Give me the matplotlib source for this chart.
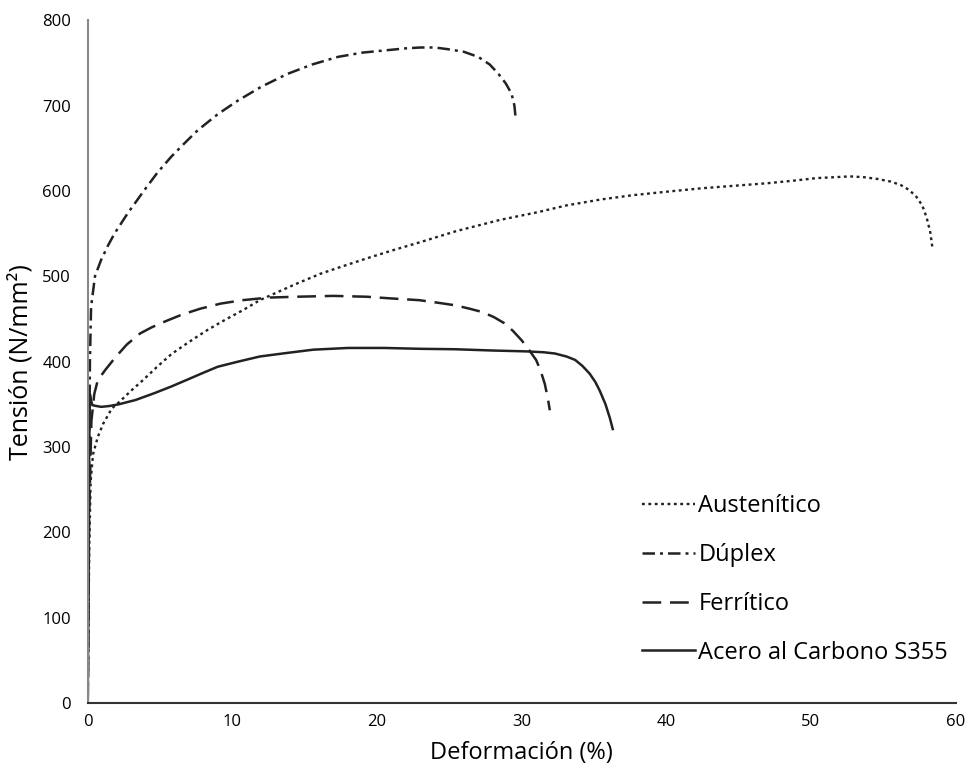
import numpy as np
import matplotlib.pyplot as plt

plt.rcParams['font.family'] = ['Open Sans', 'DejaVu Sans']

# Austenítico
aus_x = [0, 0.1, 0.2, 0.37, 0.7, 1.06, 1.66, 2.2, 3.0, 3.8, 4.8, 5.8, 7.0, 8.27, 9.5, 10.7, 11.9, 13.2,
         14.4, 16.1, 17.5, 19.3, 21.2, 23.0, 25.5, 28.5, 31.1, 33.1, 35.5, 37.7, 40.0, 42.4, 44.7,
         47.0, 48.8, 50.4, 51.6, 52.7, 53.7, 54.6, 55.5, 56.2, 56.8, 57.3, 57.7, 58.0, 58.25, 58.4]
aus_y = [0, 180, 260, 292, 312, 327, 345, 353, 366, 378, 394, 409, 423, 437, 449, 460, 472, 482,
         491, 503, 511, 521, 531, 540, 553, 566, 575, 583, 590, 595, 599, 603, 606,
         609, 612, 615, 616, 617, 616, 614, 611, 607, 601, 593, 583, 569, 552, 534]

# Dúplex
dup_x = [0, 0.08, 0.15, 0.23, 0.5, 0.92, 1.4, 1.85, 2.77, 3.92, 4.8, 5.77, 6.7, 7.6, 9.0, 10.4,
         12.0, 13.8, 15.5, 17.3, 19.0, 20.8, 22.0, 23.0, 24.0, 24.9, 26.0, 27.0, 27.8, 28.4,
         28.9, 29.3, 29.5, 29.6]
dup_y = [0, 250, 400, 464, 500, 519, 536, 550, 574, 601, 621, 640, 656, 671, 690, 706,
         722, 737, 748, 757, 762, 765, 767, 768, 768, 766, 763, 757, 748, 737,
         726, 714, 700, 683]

# Ferrítico
fer_x = [0, 0.1, 0.25, 0.45, 0.69, 1.2, 1.91, 2.7, 3.62, 4.4, 5.34, 6.5, 7.78, 9.2, 10.71, 12.5,
         14.4, 17.0, 19.3, 21.0, 22.9, 24.2, 25.4, 26.4, 27.3, 28.1, 28.8, 29.4, 30.0, 30.5,
         31.0, 31.3, 31.6, 31.8, 31.95]
fer_y = [0, 220, 330, 362, 378, 390, 405, 420, 433, 440, 447, 455, 462, 468, 472, 475,
         476, 477, 476, 474, 472, 469, 466, 462, 458, 452, 445, 436, 425, 414,
         402, 390, 374, 358, 343]

# Acero al Carbono S355
car_x = [0, 0.05, 0.1, 0.15, 0.22, 0.32, 0.6, 0.93, 1.5, 2.15, 3.3, 4.6, 5.8, 7.04, 8.0, 8.99,
         10.4, 11.9, 13.7, 15.6, 18.0, 20.5, 23.0, 25.4, 28.0, 30.3, 31.5, 32.3, 33.1, 33.7,
         34.2, 34.7, 35.1, 35.4, 35.8, 36.1, 36.3]
car_y = [0, 150, 300, 362, 355, 349, 348, 347, 348, 350, 355, 363, 371, 380, 387, 394,
         400, 406, 410, 414, 416, 416, 415, 414.5, 413, 412, 411, 409.5, 406, 402,
         395, 386, 376, 366, 350, 334, 321]

labels = ['Austenítico', 'Dúplex', 'Ferrítico', 'Acero al Carbono S355']

fig = plt.figure(figsize=(9.75, 7.76), dpi=100)
ax = fig.add_axes([0.09, 0.094, 0.89, 0.88])

ax.plot(aus_x, aus_y, color='#222222', lw=1.7, linestyle=(0, (1.2, 1.5)), label=labels[0])
ax.plot(dup_x, dup_y, color='#222222', lw=1.8, linestyle=(0, (5, 2, 1.2, 2)), label=labels[1])
ax.plot(fer_x, fer_y, color='#222222', lw=1.8, linestyle=(0, (7.5, 3.5)), label=labels[2])
ax.plot(car_x, car_y, color='#222222', lw=1.8, linestyle='-', label=labels[3])

ax.set_xlim(0, 60)
ax.set_ylim(0, 800)
ax.set_xticks(range(0, 61, 10))
ax.set_yticks(range(0, 801, 100))
ax.tick_params(length=0, labelsize=12)
ax.tick_params(axis='x', pad=8)
ax.tick_params(axis='y', pad=12)
for s in ['top', 'right']:
    ax.spines[s].set_visible(False)
ax.spines['left'].set_color('#888888')
ax.spines['left'].set_linewidth(1.5)
ax.spines['bottom'].set_color('#333333')
ax.spines['bottom'].set_linewidth(1.5)

ax.set_xlabel('Deformación (%)', fontsize=17, labelpad=8)
ax.set_ylabel('Tensión (N/mm²)', fontsize=18, labelpad=6)

leg = ax.legend(loc='lower right', bbox_to_anchor=(1.016, 0.025), frameon=False,
                fontsize=17, handlelength=2.25, handletextpad=0.15, labelspacing=1.05)

fig.savefig('out.png', dpi=100)
